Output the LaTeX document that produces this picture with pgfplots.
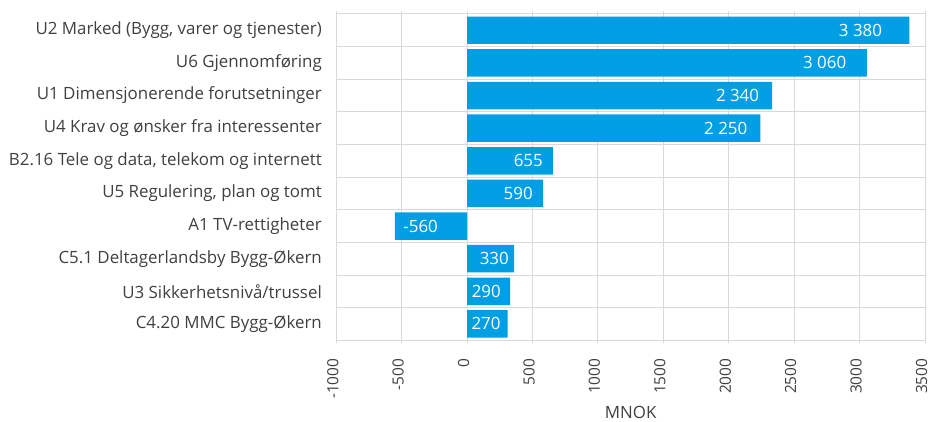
\documentclass[border=0pt]{standalone}
\usepackage{fontspec}
\setmainfont{Open Sans}
\usepackage{pgfplots}
\pgfplotsset{compat=1.18}
\definecolor{barblue}{HTML}{009FE3}
\definecolor{gridgray}{HTML}{D9D9D9}
\definecolor{txtgray}{HTML}{404040}
\begin{document}
\begin{tikzpicture}
\useasboundingbox (-337bp,-81bp) rectangle (595bp,341bp);
\begin{axis}[
  name=ax,
  at={(0,0)}, anchor=south west,
  scale only axis, width=590bp, height=327bp,
  xmin=-1000, xmax=3500,
  ymin=-0.5, ymax=9.5,
  bar width=27.5bp,
  ytick={0,...,9},
  yticklabels={C4.20 MMC Bygg-Økern, U3 Sikkerhetsnivå/trussel, C5.1 Deltagerlandsby Bygg-Økern, A1 TV-rettigheter, U5 Regulering{,} plan og tomt, B2.16 Tele og data{,} telekom og internett, U4 Krav og ønsker fra interessenter, U1 Dimensjonerende forutsetninger, U6 Gjennomføring, U2 Marked (Bygg{,} varer og tjenester)},
  minor ytick={-0.5,0.5,...,9.5},
  yminorgrids=true,
  xtick={-1000,-500,...,3500},
  xmajorgrids=true,
  grid style={gridgray, line width=1bp},
  minor grid style={gridgray, line width=1bp},
  axis line style={gridgray, line width=1bp},
  major y tick style={draw=none},
  minor y tick style={draw=none},
  major x tick style={gridgray, line width=1bp},
  tick align=outside, major tick length=3bp,
  /pgf/number format/assume math mode=true,
  /pgf/number format/set thousands separator={},
  xticklabel shift=12bp,
  xticklabel style={xshift=-3.5bp, rotate=90, anchor=east, font=\fontsize{15.5}{17}\selectfont, text=txtgray},
  yticklabel style={font=\fontsize{17}{18}\selectfont, text=txtgray, xshift=-8bp},
  xlabel={MNOK},
  xlabel style={at={(axis description cs:0.5,0)}, anchor=center, yshift=-72bp, font=\fontsize{17}{18}\selectfont, text=txtgray},
  clip=false,
]
\addplot[xbar, bar shift=0pt, fill=barblue, draw=none] coordinates {
  (3380,9) (3055,8) (2332,7) (2242,6) (656,5) (582,4) (-552,3) (360,2) (328,1) (310,0)
};
\addplot[draw=none, mark=none, point meta=explicit symbolic, nodes near coords,
  nodes near coords style={anchor=east, text=white, inner sep=0pt, font=\fontsize{17}{18}\selectfont}]
  coordinates {
  (3173,9) [3~380] (2899,8) [3~060] (2233,7) [2~340] (2143,6) [2~250]
  (580,5) [655] (503,4) [590] (320,2) [330] (259,1) [290] (257,0) [270]
};
\addplot[draw=none, mark=none, point meta=explicit symbolic, nodes near coords,
  nodes near coords style={anchor=west, text=white, inner sep=0pt, font=\fontsize{17}{18}\selectfont}]
  coordinates {(-488,3) [-560]};
\end{axis}
\end{tikzpicture}
\end{document}
